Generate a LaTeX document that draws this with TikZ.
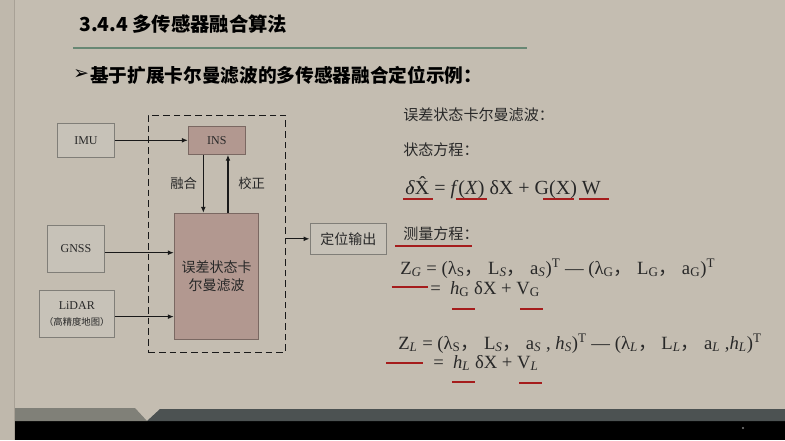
\documentclass[tikz,border=0pt]{standalone}
\usepackage{fontspec}
\usepackage{xcolor}
\usepackage{tikz}
\usetikzlibrary{arrows.meta,positioning}
\setmainfont{Liberation Serif}
\newfontfamily\cjk{Noto Sans CJK SC}
\newfontfamily\symfont{DejaVu Sans}
\definecolor{slidebg}{RGB}{196,189,177}
\definecolor{stripbg}{RGB}{191,184,172}
\definecolor{stripline}{RGB}{168,161,150}
\definecolor{rulegreen}{RGB}{104,136,116}
\definecolor{boxfill}{RGB}{199,194,184}
\definecolor{boxgray}{RGB}{128,126,120}
\definecolor{kfrose}{RGB}{178,152,144}
\definecolor{kfborder}{RGB}{122,104,98}
\definecolor{arrowdark}{RGB}{25,25,25}
\definecolor{textdark}{RGB}{40,40,40}
\definecolor{markred}{RGB}{165,28,28}
\definecolor{bandgray}{RGB}{128,128,120}
\definecolor{banddark}{RGB}{76,82,82}

\begin{document}
\begin{tikzpicture}[
  x=0.75pt, y=-0.75pt,
  snode/.style = {
    rectangle, draw=boxgray, fill=boxfill, line width=0.6pt,
    inner sep=0pt, align=center, text=textdark, font=\small
  },
  knode/.style = {
    rectangle, draw=kfborder, fill=kfrose, line width=0.6pt,
    inner sep=0pt, align=center, text=textdark
  },
  arr/.style = {-{Latex[length=4.5pt,width=3.6pt]}, line width=0.9pt, arrowdark},
  txt/.style = {anchor=west, inner sep=0pt, text=textdark},
  redmark/.style = {line width=1.5pt, markred}
]
  % slide background
  \useasboundingbox (0,0) rectangle (785,440);
  \fill[slidebg] (0,0) rectangle (785,440);
  \fill[stripbg] (0,0) rectangle (14,440);
  \draw[stripline, line width=0.8pt] (14.5,0) -- (14.5,440);
  \fill[black] (15,421) rectangle (785,440);
  \fill[bandgray] (15,408) -- (135,408) -- (147,421) -- (15,421) -- cycle;
  \fill[banddark] (147,421) -- (160,409) -- (785,409) -- (785,421) -- cycle;
  \fill[gray] (743,428) circle (1.2);

  % heading
  \node[txt, text=black, font=\cjk\bfseries\fontsize{14.5}{17}\selectfont] (title) at (79,24) {3.4.4 多传感器融合算法};
  \draw[rulegreen, line width=1.5pt] (73,48) -- (527,48);
  \node[txt, text=black, font=\symfont\fontsize{14}{16}\selectfont] (bullet) at (73,75) {➢};
  \node[txt, text=black, font=\cjk\bfseries\fontsize{14}{17}\selectfont] (subtitle) at (90,75) {基于扩展卡尔曼滤波的多传感器融合定位示例：};

  % fusion diagram
  \node[rectangle, draw=arrowdark, dashed, line width=0.8pt, dash pattern=on 5pt off 3pt,
        minimum width=103pt, minimum height=178pt] (fusion) at (217,233.7) {};
  \node[snode, minimum width=42.5pt, minimum height=25.5pt] (imu) at (86,140.3) {IMU};
  \node[knode, minimum width=42.75pt, minimum height=21.2pt, font=\small] (ins) at (216.8,140.2) {INS};
  \node[knode, minimum width=63.3pt, minimum height=94.5pt,
        font=\cjk\fontsize{10.5}{13}\selectfont] (ekf) at (216.5,276.3) {误差状态卡\\尔曼滤波};
  \node[snode, minimum width=42.5pt, minimum height=35.5pt] (gnss) at (76,248.7) {GNSS};
  \node[snode, minimum width=56.25pt, minimum height=35.5pt] (lidar) at (76.8,313.7)
       {LiDAR\\[1pt]{\cjk\fontsize{7}{8}\selectfont （高精度地图）}};
  \node[snode, minimum width=57.5pt, minimum height=23.25pt,
        font=\cjk\fontsize{10.5}{12}\selectfont] (out) at (348.3,238.8) {定位输出};

  \draw[arr] (imu.east) -- (imu.east -| ins.west);
  \draw[arr] ([xshift=-10.1pt]ins.south) -- node[left=1pt, text=textdark, font=\cjk\fontsize{10}{12}\selectfont]{融合} ([xshift=-10.1pt]ins.south |- ekf.north);
  \draw[arr] ([xshift=8.6pt]ekf.north) -- node[right=4pt, text=textdark, font=\cjk\fontsize{10}{12}\selectfont]{校正} ([xshift=8.6pt]ekf.north |- ins.south);
  \draw[arr] ([yshift=-3pt]gnss.east) -- ([yshift=-3pt]gnss.east -| ekf.west);
  \draw[arr] ([yshift=-2.2pt]lidar.east) -- ([yshift=-2.2pt]lidar.east -| ekf.west);
  \draw[arr] (fusion.east |- out.west) -- (out.west);

  % equations
  \node[txt, font=\cjk\fontsize{11.3}{13}\selectfont] (kftitle) at (403,115) {误差状态卡尔曼滤波：};
  \node[txt, font=\cjk\fontsize{11.3}{13}\selectfont] (statelbl) at (403,150) {状态方程：};
  \node[txt, font=\fontsize{15}{17}\selectfont] (stateeq) at (405,188)
       {\textit{δ}\^{X} = \textit{f}(\textit{X}) δX + G(X) W};
  \node[txt, font=\cjk\fontsize{11.3}{13}\selectfont] (measlbl) at (403,233.3) {测量方程：};
  \node[txt, font=\fontsize{14}{16}\selectfont] (zg) at (400,268.3)
       {Z\textsubscript{\textit{G}} = (λ\textsubscript{S}{\cjk ，} L\textsubscript{\textit{S}}{\cjk ，} a\textsubscript{\textit{S}})\textsuperscript{T} — (λ\textsubscript{G}{\cjk ，} L\textsubscript{G}{\cjk ，} a\textsubscript{G})\textsuperscript{T}};
  \node[txt, font=\fontsize{14}{16}\selectfont] (zgb) at (430,289)
       {=\ \ \textit{h}\textsubscript{G} δX + V\textsubscript{G}};
  \node[txt, font=\fontsize{14}{16}\selectfont] (zl) at (398,343.3)
       {Z\textsubscript{\textit{L}} = (λ\textsubscript{S}{\cjk ，} L\textsubscript{\textit{S}}{\cjk ，} a\textsubscript{\textit{S}} , \textit{h}\textsubscript{\textit{S}})\textsuperscript{T} — (λ\textsubscript{\textit{L}}{\cjk ，} L\textsubscript{\textit{L}}{\cjk ，} a\textsubscript{\textit{L}} ,\textit{h}\textsubscript{\textit{L}})\textsuperscript{T}};
  \node[txt, font=\fontsize{14}{16}\selectfont] (zlb) at (433,363)
       {=\ \ \textit{h}\textsubscript{\textit{L}} δX + V\textsubscript{\textit{L}}};

  % red marks
  \draw[redmark] (403,199) -- (433,199);
  \draw[redmark] (456,199) -- (487,199);
  \draw[redmark] (543,199) -- (574,199);
  \draw[redmark] (579,199) -- (609,199);
  \draw[redmark] (395,245.7) -- (471.7,245.7);
  \draw[redmark] (391.7,286.7) -- (428.3,286.7);
  \draw[redmark] (452,309.3) -- (475,309.3);
  \draw[redmark] (520,309.3) -- (543,309.3);
  \draw[redmark] (386,363.3) -- (423.3,363.3);
  \draw[redmark] (452,381.7) -- (475,381.7);
  \draw[redmark] (519,383) -- (542,383);
\end{tikzpicture}
\end{document}
